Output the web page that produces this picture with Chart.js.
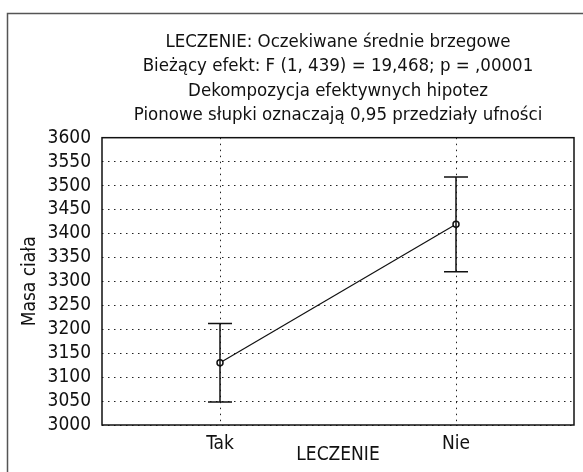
<!DOCTYPE html>
<html lang="pl">
<head>
<meta charset="UTF-8">
<script src="https://cdn.jsdelivr.net/npm/chart.js"></script>
<style>
  html, body { margin: 0; padding: 0; background: #fff; }
  #wrap { width: 583px; height: 472px; }
</style>
</head>
<body>
<div id="wrap"><canvas id="wykres"></canvas></div>
<script>
    // dane
    var kategorie = ['Tak', 'Nie']
    var srednie = [3130, 3419]
    var dolne = [3048, 3320]
    var gorne = [3212, 3518]
    var tytul = [
        'LECZENIE: Oczekiwane średnie brzegowe',
        'Bieżący efekt: F (1, 439) = 19,468; p = ,00001',
        'Dekompozycja efektywnych hipotez',
        'Pionowe słupki oznaczają 0,95 przedziały ufności'
    ]

    var czcionka = '"Liberation Sans Narrow", "DejaVu Sans Condensed", "Liberation Sans", sans-serif'

    // ramka wokol calego rysunku + ramka obszaru wykresu + slupki bledow
    var dodatki = {
        id: 'dodatki',
        beforeDraw: function (chart) {
            var ctx = chart.ctx
            ctx.save()
            ctx.strokeStyle = '#555'
            ctx.lineWidth = 1.5
            ctx.beginPath()
            ctx.moveTo(7.5, 472)
            ctx.lineTo(7.5, 13.5)
            ctx.lineTo(583, 13.5)
            ctx.stroke()
            ctx.restore()
        },
        afterDatasetsDraw: function (chart) {
            var ctx = chart.ctx
            var x = chart.scales.x
            var y = chart.scales.y
            var a = chart.chartArea
            ctx.save()
            ctx.strokeStyle = '#111'
            ctx.lineWidth = 1.5
            for (var i = 0; i < kategorie.length; i++) {
                var px = x.getPixelForValue(i)
                var y1 = y.getPixelForValue(dolne[i])
                var y2 = y.getPixelForValue(gorne[i])
                ctx.beginPath()
                ctx.moveTo(px, y1)
                ctx.lineTo(px, y2)
                ctx.moveTo(px - 12, y1)
                ctx.lineTo(px + 12, y1)
                ctx.moveTo(px - 12, y2)
                ctx.lineTo(px + 12, y2)
                ctx.stroke()
            }
            ctx.strokeStyle = '#111'
            ctx.lineWidth = 1.5
            ctx.strokeRect(a.left, a.top, a.right - a.left, a.bottom - a.top)
            ctx.restore()
        }
    }

    const config = {
        type: 'line',
        data: {
            labels: kategorie,
            datasets: [{
                label: 'Masa ciała',
                data: srednie,
                borderColor: '#111',
                borderWidth: 1.2,
                pointRadius: 3,
                pointBorderWidth: 1.5,
                pointBackgroundColor: '#fff',
                pointBorderColor: '#111',
                tension: 0
            }]
        },
        plugins: [dodatki],
        options: {
            responsive: false,
            animation: false,
            layout: { padding: { left: 0, right: 9, top: 0, bottom: 0 } },
            plugins: {
                legend: { display: false },
                tooltip: { enabled: false },
                title: {
                    display: true,
                    fullSize: false,
                    text: tytul,
                    color: '#111',
                    font: { family: czcionka, size: 18.5, weight: 'normal', lineHeight: 1.32 },
                    padding: { top: 30, bottom: 10 }
                }
            },
            scales: {
                x: {
                    offset: true,
                    grid: {
                        offset: false,
                        drawTicks: false,
                        color: '#222',
                        lineWidth: 1
                    },
                    border: { display: false, dash: [1.5, 4.5] },
                    ticks: {
                        color: '#111',
                        padding: 8,
                        font: { family: czcionka, size: 19 }
                    },
                    title: {
                        display: true,
                        text: 'LECZENIE',
                        color: '#111',
                        font: { family: czcionka, size: 19, lineHeight: 1.15 },
                        padding: { top: 0, bottom: 6 }
                    },
                    afterFit: function (s) { s.height = 47 }
                },
                y: {
                    min: 3000,
                    max: 3600,
                    grid: {
                        drawTicks: false,
                        color: '#222',
                        lineWidth: 1
                    },
                    border: { display: false, dash: [1.5, 4.5] },
                    ticks: {
                        stepSize: 50,
                        autoSkip: false,
                        color: '#111',
                        padding: 11,
                        font: { family: czcionka, size: 19 },
                        callback: function (v) { return String(v) }
                    },
                    title: {
                        display: true,
                        text: 'Masa ciała',
                        color: '#111',
                        font: { family: czcionka, size: 19, lineHeight: 1.15 },
                        padding: { top: 19, bottom: 0 }
                    },
                    afterFit: function (s) { s.width = 102 }
                }
            }
        }
    }

    var c = document.getElementById('wykres')
    c.width = 583
    c.height = 472
    const wykres = new Chart(c, config)
</script>
</body>
</html>
